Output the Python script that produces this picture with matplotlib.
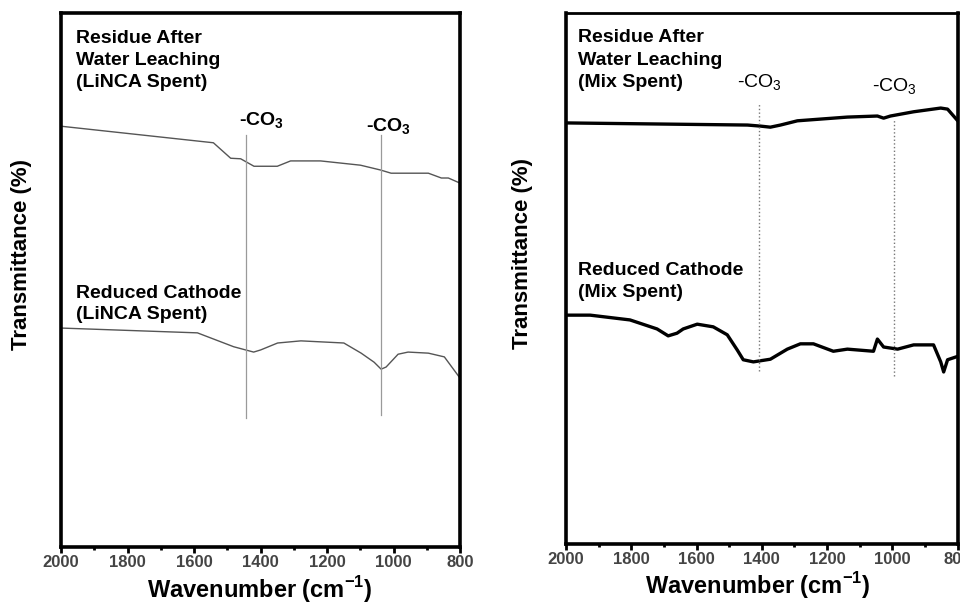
import numpy as np
import matplotlib
matplotlib.use('Agg')
import matplotlib.pyplot as plt
from matplotlib.ticker import MultipleLocator

plt.rcParams['font.family'] = ['Liberation Sans', 'DejaVu Sans']
plt.rcParams['mathtext.fontset'] = 'custom'
plt.rcParams['mathtext.rm'] = 'Liberation Sans'
plt.rcParams['mathtext.bf'] = 'Liberation Sans:bold'

# ---- LiNCA spent (left panel), relative transmittance
linca_res_wn = [2000, 1542, 1490, 1460, 1420, 1350, 1310, 1220, 1100, 1040, 1008, 896, 857, 836, 803]
linca_res_T = [78.8, 75.7, 72.8, 72.7, 71.3, 71.3, 72.3, 72.3, 71.5, 70.6, 70.0, 70.0, 69.1, 69.1, 68.2]

linca_red_wn = [2000, 1590, 1481, 1421, 1400, 1349, 1279, 1150, 1098, 1059, 1038, 1023, 987, 957, 896, 848, 803]
linca_red_T = [41.0, 40.1, 37.5, 36.5, 36.9, 38.2, 38.6, 38.2, 36.3, 34.6, 33.3, 33.7, 36.1, 36.5, 36.3, 35.6, 31.8]

# ---- Mix spent (right panel)
mix_res_wn = [2000, 1444, 1404, 1374, 1343, 1291, 1138, 1046, 1027, 1006, 935, 852, 831, 797]
mix_res_T = [79.3, 78.9, 78.7, 78.5, 78.9, 79.7, 80.4, 80.6, 80.2, 80.6, 81.4, 82.1, 81.9, 79.5]

mix_red_wn = [2000, 1926, 1804, 1721, 1687, 1660, 1641, 1598, 1549, 1506, 1475, 1457, 1426, 1374,
              1322, 1282, 1242, 1181, 1138, 1058, 1046, 1027, 984, 935, 874, 852, 843, 831, 797]
mix_red_T = [43.1, 43.1, 42.2, 40.5, 39.2, 39.7, 40.5, 41.4, 40.9, 39.4, 36.5, 34.7, 34.3, 34.8,
             36.7, 37.7, 37.7, 36.3, 36.7, 36.3, 38.6, 37.1, 36.7, 37.5, 37.5, 34.3, 32.4, 34.7, 35.4]

# carbonate marker lines: position, y range
linca_co3 = [1445, 1038]
linca_co3_y = [(24.2, 77.2), (24.7, 77.2)]
mix_co3 = [1408, 995]
mix_co3_y = [(32.6, 83.1), (31.6, 79.8)]

x_ticks = [2000, 1800, 1600, 1400, 1200, 1000, 800]


def style_axis(a):
    a.set_xlim(2000, 800)
    a.set_ylim(0, 100)
    a.set_xticks(x_ticks)
    a.xaxis.set_minor_locator(MultipleLocator(100))
    a.set_yticks([])
    for s in a.spines.values():
        s.set_linewidth(2.6)
    a.tick_params(axis='x', which='major', direction='out', length=4, width=2,
                  labelsize=12, labelcolor='#444444', pad=2)
    a.tick_params(axis='x', which='minor', direction='out', length=2, width=2)
    for lab in a.get_xticklabels():
        lab.set_fontweight('bold')
    a.set_xlabel(r'Wavenumber (cm$^{\mathbf{-1}}$)', fontsize=17, fontweight='bold')
    a.set_ylabel('Transmittance (%)', fontsize=16, fontweight='bold')


fig = plt.figure(figsize=(9.6, 6.05), dpi=100)
ax1 = fig.add_axes([0.0635, 0.0959, 0.416, 0.8826])
ax2 = fig.add_axes([0.5896, 0.1008, 0.408, 0.8777])

# left panel
ax1.plot(linca_res_wn, linca_res_T, color='#555555', lw=1.0)
ax1.plot(linca_red_wn, linca_red_T, color='#555555', lw=1.0)
for w, (y0, y1) in zip(linca_co3, linca_co3_y):
    ax1.plot([w, w], [y0, y1], color='#9a9a9a', lw=0.9)
ax1.text(1466, 79.8, r'-CO$_{\mathbf{3}}$', fontsize=14, fontweight='bold', ha='left', va='center')
ax1.text(1083, 78.7, r'-CO$_{\mathbf{3}}$', fontsize=14, fontweight='bold', ha='left', va='center')
ax1.text(0.038, 0.969, 'Residue After\nWater Leaching\n(LiNCA Spent)', transform=ax1.transAxes,
         fontsize=14, fontweight='bold', ha='left', va='top', linespacing=1.4)
ax1.text(0.038, 0.491, 'Reduced Cathode\n(LiNCA Spent)', transform=ax1.transAxes,
         fontsize=14, fontweight='bold', ha='left', va='top', linespacing=1.3)
style_axis(ax1)
ax1.yaxis.set_label_coords(-0.073, 0.547)
ax1.xaxis.set_label_coords(0.497, -0.05)

# right panel
ax2.plot(mix_res_wn, mix_res_T, color='black', lw=2.4)
ax2.plot(mix_red_wn, mix_red_T, color='black', lw=2.4)
for w, (y0, y1) in zip(mix_co3, mix_co3_y):
    ax2.plot([w, w], [y0, y1], color='#777777', lw=1.0, ls=':')
ax2.text(1475, 86.8, r'-CO$_3$', fontsize=14, ha='left', va='center')
ax2.text(1064, 86.1, r'-CO$_3$', fontsize=14, ha='left', va='center')
ax2.text(0.031, 0.969, 'Residue After\nWater Leaching\n(Mix Spent)', transform=ax2.transAxes,
         fontsize=14, fontweight='bold', ha='left', va='top', linespacing=1.4)
ax2.text(0.031, 0.531, 'Reduced Cathode\n(Mix Spent)', transform=ax2.transAxes,
         fontsize=14, fontweight='bold', ha='left', va='top', linespacing=1.35)
style_axis(ax2)
ax2.spines['top'].set_linewidth(2.0)
ax2.yaxis.set_label_coords(-0.084, 0.547)
ax2.xaxis.set_label_coords(0.49, -0.05)

fig.savefig('out.png', dpi=100)
